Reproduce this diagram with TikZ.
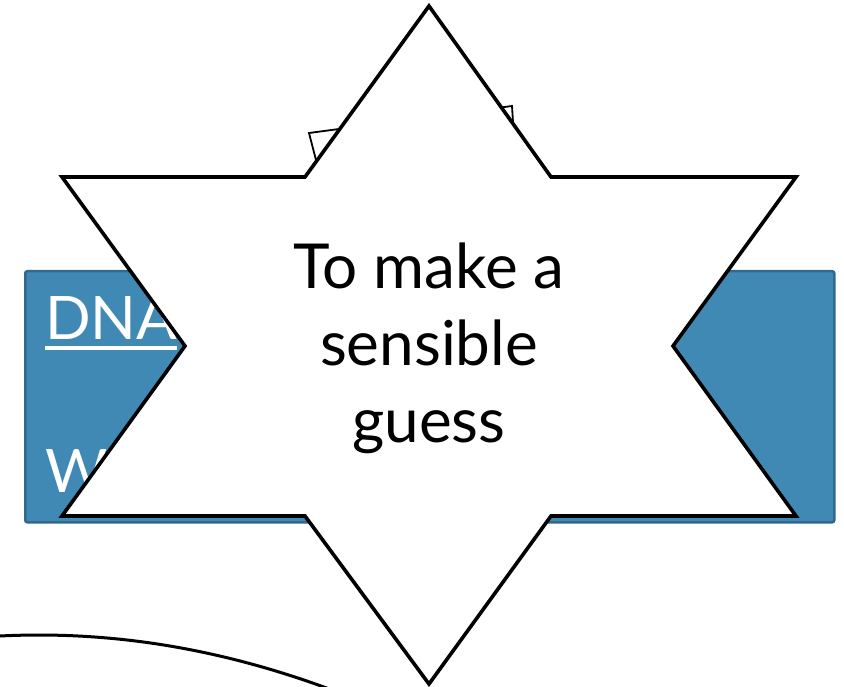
\documentclass[tikz,border=0pt]{standalone}
\usepackage{fontspec}
\setmainfont{Lato}
\usetikzlibrary{calc}
\definecolor{PanelBlue}{HTML}{4189B5}
\definecolor{PanelEdge}{HTML}{31688F}

\begin{document}
\begin{tikzpicture}[
  x=1pt, y=-1pt,
  panel/.style={draw=PanelEdge,line width=2.5pt,fill=PanelBlue,rounded corners=2pt,inner sep=0pt},
  outline/.style={draw=black,line width=3.6pt,fill=white,line join=miter},
  paneltext/.style={text=white,font=\fontsize{60}{70}\selectfont,anchor=base west,inner sep=0pt},
  startext/.style={font=\fontsize{62}{77}\selectfont,align=center}
]
  \useasboundingbox (0,0) rectangle (844,687);

  % curved line at the bottom
  \coordinate (curvea) at (0,636);
  \coordinate (curveb) at (332,690);
  \draw[line width=3pt] (curvea) .. controls (120,630) and (230,652) .. (curveb);

  % box tucked behind the star
  \draw[line width=1.8pt,fill=white] (309,133) -- (512,106) -- (516,170) -- (316,160) -- cycle;

  % blue panel
  \node[panel,anchor=north west,minimum width=809pt,minimum height=251pt] (panel) at (24,270) {};
  \node[paneltext] (dna) at (45,340) {DNA};
  \draw[white,line width=4pt] ($(dna.base west)+(0,8)$) -- ($(dna.base east)+(0,8)$);
  \node[paneltext] (what) at (45,492) {W};

  % six-pointed star
  \draw[outline] (429,6) -- (551,177) -- (796,177) -- (673,346) -- (796,516) -- (551,516)
    -- (429,684) -- (305,516) -- (62,516) -- (185,346) -- (62,177) -- (305,177) -- cycle;
  \node[startext] (guess) at (429,348) {To make a\\sensible\\guess};
\end{tikzpicture}
\end{document}
